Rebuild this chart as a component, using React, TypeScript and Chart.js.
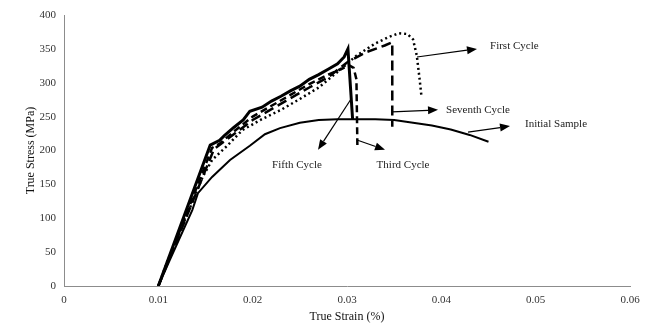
import React, { useEffect, useRef } from "react";
import { Chart, registerables } from "chart.js";

Chart.register(...registerables);

// ---- Data (True Strain %, True Stress MPa) ----
const initialStrain = [0.01, 0.0112, 0.0136, 0.0142, 0.0157, 0.0176, 0.0197, 0.0213, 0.0229, 0.025, 0.027, 0.029, 0.031, 0.033, 0.035, 0.037, 0.039, 0.041, 0.043, 0.045];
const initialStress = [0, 38, 112, 137, 161, 186, 207, 224, 233, 241, 245, 246, 246, 246, 245, 241, 237, 231, 223, 213];

const firstStrain = [0.01, 0.011, 0.01325, 0.0147, 0.0157, 0.0173, 0.0189, 0.0208, 0.023, 0.025, 0.027, 0.029, 0.031, 0.033, 0.0345, 0.0355, 0.0364, 0.037, 0.0374, 0.0377, 0.0379];
const firstStress = [0, 38, 112, 161, 186, 207, 230, 245, 260, 276, 293, 316, 340, 358, 368, 373, 372, 364, 340, 305, 279];

const thirdStrain = [0.01, 0.0157, 0.0165, 0.018, 0.02, 0.022, 0.024, 0.026, 0.028, 0.0295, 0.0302, 0.0307, 0.031, 0.0311];
const thirdStress = [0, 204, 210, 228, 250, 266, 282, 298, 312, 321, 326, 322, 305, 208];

const fifthStrain = [0.01, 0.0155, 0.0165, 0.017, 0.018, 0.019, 0.0197, 0.021, 0.022, 0.023, 0.024, 0.025, 0.026, 0.027, 0.028, 0.029, 0.0297, 0.0301, 0.0306];
const fifthStress = [0, 208, 215, 222, 234, 245, 258, 264, 273, 280, 288, 295, 305, 312, 320, 328, 338, 350, 245];

const seventhStrain = [0.01, 0.0159, 0.018, 0.02, 0.022, 0.024, 0.026, 0.028, 0.03, 0.032, 0.034, 0.0348, 0.0348];
const seventhStress = [0, 202, 224, 245, 261, 277, 293, 308, 330, 345, 355, 360, 235];

const xTicks = [0, 0.01, 0.02, 0.03, 0.04, 0.05, 0.06];
const yTicks = [0, 50, 100, 150, 200, 250, 300, 350, 400];

// Annotation labels (data coordinates)
const labelTexts = ["First Cycle", "Seventh Cycle", "Initial Sample", "Fifth Cycle", "Third Cycle"];
const labelAt = [
  [0.04516, 354],
  [0.0405, 260],
  [0.04887, 239],
  [0.0247, 179],
  [0.03594, 179],
];
const labelAlign = ["left", "left", "left", "center", "center"];
const arrowFrom = [
  [0.03742, 338],
  [0.03477, 257],
  [0.04283, 227],
  [0.03043, 276],
  [0.03106, 215.5],
];
const arrowTo = [
  [0.04378, 350],
  [0.03965, 260],
  [0.04728, 236],
  [0.02693, 201],
  [0.03403, 201],
];

const FONT = "'Liberation Serif', 'Times New Roman', serif";

const toPoints = (xs: number[], ys: number[]) => xs.map((x, i) => ({ x, y: ys[i] }));

const annotationPlugin = {
  id: "arrowLabels",
  afterDatasetsDraw(chart: any) {
    const { ctx, scales } = chart;
    const xs = scales.x;
    const ys = scales.y;
    ctx.save();
    ctx.strokeStyle = "#000";
    ctx.fillStyle = "#000";
    ctx.lineWidth = 1.2;
    for (let i = 0; i < arrowFrom.length; i++) {
      const x1 = xs.getPixelForValue(arrowFrom[i][0]);
      const y1 = ys.getPixelForValue(arrowFrom[i][1]);
      const x2 = xs.getPixelForValue(arrowTo[i][0]);
      const y2 = ys.getPixelForValue(arrowTo[i][1]);
      const ang = Math.atan2(y2 - y1, x2 - x1);
      const hl = 10;
      const hw = 4;
      const bx = x2 - hl * Math.cos(ang);
      const by = y2 - hl * Math.sin(ang);
      ctx.beginPath();
      ctx.moveTo(x1, y1);
      ctx.lineTo(bx, by);
      ctx.stroke();
      ctx.beginPath();
      ctx.moveTo(x2, y2);
      ctx.lineTo(bx + hw * Math.sin(ang), by - hw * Math.cos(ang));
      ctx.lineTo(bx - hw * Math.sin(ang), by + hw * Math.cos(ang));
      ctx.closePath();
      ctx.fill();
    }
    ctx.font = `11px ${FONT}`;
    ctx.textBaseline = "middle";
    ctx.fillStyle = "#222";
    for (let i = 0; i < labelTexts.length; i++) {
      ctx.textAlign = labelAlign[i] as CanvasTextAlign;
      ctx.fillText(labelTexts[i], xs.getPixelForValue(labelAt[i][0]), ys.getPixelForValue(labelAt[i][1]));
    }
    ctx.restore();
  },
};

export default function App() {
  const ref = useRef<HTMLCanvasElement | null>(null);
  useEffect(() => {
    if (!ref.current) return;
    const base = { pointRadius: 0, tension: 0, showLine: true, fill: false, borderColor: "#000", backgroundColor: "#000" };
    const chart = new Chart(ref.current, {
      type: "scatter",
      data: {
        datasets: [
          { ...base, label: "Initial Sample", data: toPoints(initialStrain, initialStress), borderWidth: 2 },
          { ...base, label: "First Cycle", data: toPoints(firstStrain, firstStress), borderWidth: 2.5, borderDash: [2, 3] },
          { ...base, label: "Third Cycle", data: toPoints(thirdStrain, thirdStress), borderWidth: 2.5, borderDash: [7, 4] },
          { ...base, label: "Seventh Cycle", data: toPoints(seventhStrain, seventhStress), borderWidth: 2.5, borderDash: [10, 5] },
          { ...base, label: "Fifth Cycle", data: toPoints(fifthStrain, fifthStress), borderWidth: 3 },
        ],
      } as any,
      options: {
        animation: false,
        responsive: false,
        maintainAspectRatio: false,
        layout: { padding: { top: 15, right: 24, left: 0, bottom: 0 } },
        plugins: { legend: { display: false }, tooltip: { enabled: false } },
        scales: {
          x: {
            type: "linear",
            min: 0,
            max: 0.06,
            afterFit: (s: any) => { s.height = 40; },
            afterBuildTicks: (s: any) => { s.ticks = xTicks.map((v) => ({ value: v })); },
            grid: { display: false, drawTicks: false },
            border: { display: true, color: "#8c8c8c", width: 1 },
            ticks: {
              padding: 8,
              color: "#333",
              font: { family: FONT, size: 11 },
              maxRotation: 0,
              callback: (v: any) => String(Number(Number(v).toFixed(2))),
            },
            title: { display: true, text: "True Strain (%)", color: "#111", font: { family: FONT, size: 12 }, padding: { top: 0, bottom: 2 } },
          },
          y: {
            type: "linear",
            min: 0,
            max: 400,
            afterFit: (s: any) => { s.width = 64; },
            afterBuildTicks: (s: any) => { s.ticks = yTicks.map((v) => ({ value: v })); },
            grid: { display: false, drawTicks: false },
            border: { display: true, color: "#8c8c8c", width: 1 },
            ticks: {
              padding: 8,
              color: "#333",
              font: { family: FONT, size: 11 },
              callback: (v: any) => String(v),
            },
            title: { display: true, text: "True Stress (MPa)", color: "#111", font: { family: FONT, size: 12 }, padding: { top: 24, bottom: 0 } },
          },
        },
      } as any,
      plugins: [annotationPlugin],
    });
    return () => chart.destroy();
  }, []);
  return (
    <div style={{ position: "fixed", left: 0, top: 0, width: 654, height: 326, background: "#fff" }}>
      <canvas ref={ref} width={654} height={326} style={{ width: 654, height: 326, display: "block" }} />
    </div>
  );
}
